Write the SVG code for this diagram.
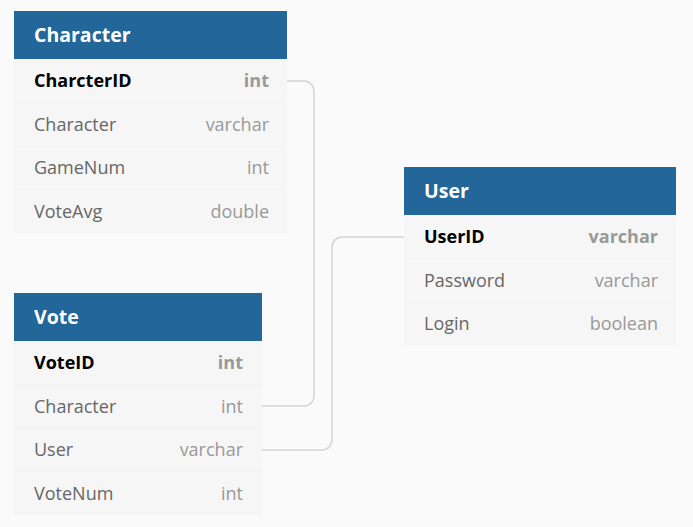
<svg xmlns="http://www.w3.org/2000/svg" width="693" height="527" viewBox="0 0 693 527">
<style>
.bg{fill:#fafafa}
.hd{fill:#236699}
.body{fill:#f6f6f6}
.sep{stroke:#f3f3f3;stroke-width:1}
.ht{font-family:"Open Sans","Noto Sans",sans-serif;font-weight:bold;font-size:19.5px;fill:#ffffff}
.fn{font-family:"Open Sans","Noto Sans",sans-serif;font-size:18px;fill:#666666}
.ft{font-family:"Open Sans","Noto Sans",sans-serif;font-size:18px;fill:#999999;text-anchor:end}
.pk{font-weight:bold;fill:#000000}
.pkt{font-weight:bold;fill:#999999}
.cn{fill:none;stroke:#d3d3d3;stroke-width:1.5}
</style>
<rect class="bg" x="0" y="0" width="693" height="527"/>
<g id="connectors">
<path class="cn" d="M287,81 H304 A10,10 0 0 1 314,91 V396 A10,10 0 0 1 304,406 H262"/>
<path class="cn" d="M404,237 H342 A10,10 0 0 0 332,247 V440 A10,10 0 0 1 322,450 H262"/>
</g>
<g id="character">
<rect class="hd" x="14" y="11" width="273" height="48"/>
<rect class="body" x="14" y="59" width="273" height="174"/>
<path class="sep" d="M14,102.5 H287 M14,146.5 H287 M14,189.5 H287"/>
<text class="ht" x="34" y="42">Character</text>
<text class="fn pk" x="34" y="87">CharcterID</text><text class="ft pkt" x="269" y="87">int</text>
<text class="fn" x="34" y="131">Character</text><text class="ft" x="269" y="131">varchar</text>
<text class="fn" x="34" y="174">GameNum</text><text class="ft" x="269" y="174">int</text>
<text class="fn" x="34" y="218">VoteAvg</text><text class="ft" x="269" y="218">double</text>
</g>
<g id="vote">
<rect class="hd" x="14" y="293" width="248" height="48"/>
<rect class="body" x="14" y="341" width="248" height="174"/>
<path class="sep" d="M14,384.5 H262 M14,428.5 H262 M14,471.5 H262"/>
<text class="ht" x="34" y="324">Vote</text>
<text class="fn pk" x="34" y="369">VoteID</text><text class="ft pkt" x="243" y="369">int</text>
<text class="fn" x="34" y="413">Character</text><text class="ft" x="243" y="413">int</text>
<text class="fn" x="34" y="456">User</text><text class="ft" x="243" y="456">varchar</text>
<text class="fn" x="34" y="500">VoteNum</text><text class="ft" x="243" y="500">int</text>
</g>
<g id="user">
<rect class="hd" x="404" y="167" width="272" height="48"/>
<rect class="body" x="404" y="215" width="272" height="130"/>
<path class="sep" d="M404,258.5 H676 M404,302.5 H676"/>
<text class="ht" x="424" y="198">User</text>
<text class="fn pk" x="424" y="243">UserID</text><text class="ft pkt" x="658" y="243">varchar</text>
<text class="fn" x="424" y="287">Password</text><text class="ft" x="658" y="287">varchar</text>
<text class="fn" x="424" y="330">Login</text><text class="ft" x="658" y="330">boolean</text>
</g>
</svg>
